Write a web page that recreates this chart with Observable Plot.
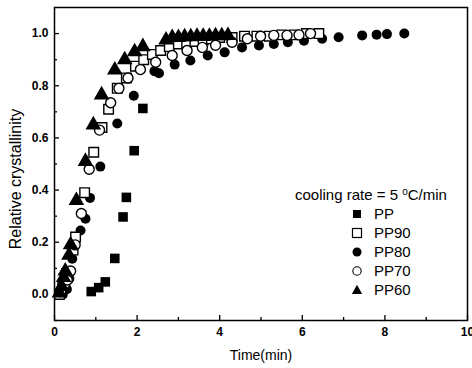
<!DOCTYPE html>
<html>
<head>
<meta charset="utf-8">
<script src="https://cdn.jsdelivr.net/npm/d3@7"></script>
<script src="https://cdn.jsdelivr.net/npm/@observablehq/plot@0.6"></script>
<style>
  html, body { margin: 0; padding: 0; background: #fff; }
  #wrap { position: relative; width: 472px; height: 368px; font-family: "Liberation Sans", Arial, sans-serif; }
  #legend { position: absolute; left: 295px; top: 182px; font-size: 15px; color: #000; }
  #legend .title { height: 19px; line-height: 19px; margin-bottom: 3px; white-space: nowrap; }
  #legend .row { display: flex; align-items: center; height: 19px; line-height: 19px; margin-left: 55px; }
  #legend svg { width: 14px; height: 14px; margin-right: 10px; overflow: visible; }
</style>
</head>
<body>
<div id="wrap"></div>
<script>
// ---- data (time in min, relative crystallinity) ----
const ppT   = [0.89, 1.07, 1.23, 1.46, 1.66, 1.74, 1.93, 2.14];
const ppY   = [0.011, 0.026, 0.048, 0.138, 0.297, 0.372, 0.551, 0.713];

const pp90T = [0.12, 0.20, 0.30, 0.45, 0.51, 0.73, 0.95, 1.15, 1.31, 1.52, 1.74, 1.96, 2.16, 2.37, 2.57, 2.78, 3.00, 3.20, 3.40, 3.60, 3.80, 4.00, 4.30, 4.60, 4.90, 5.20, 5.50, 5.80, 6.10, 6.40];
const pp90Y = [0.00, 0.03, 0.08, 0.17, 0.22, 0.39, 0.545, 0.64, 0.71, 0.79, 0.83, 0.875, 0.90, 0.92, 0.935, 0.95, 0.96, 0.965, 0.97, 0.975, 0.98, 0.985, 0.985, 0.99, 0.99, 0.99, 0.995, 0.995, 1.0, 1.0];

const pp80T = [0.20, 0.30, 0.36, 0.43, 0.63, 0.75, 0.86, 1.11, 1.52, 1.92, 2.42, 2.53, 2.91, 3.29, 3.71, 4.12, 4.54, 4.95, 5.31, 5.65, 6.04, 6.48, 6.88, 7.45, 7.80, 8.05, 8.47];
const pp80Y = [0.00, 0.02, 0.06, 0.137, 0.245, 0.29, 0.37, 0.49, 0.655, 0.762, 0.856, 0.848, 0.881, 0.897, 0.916, 0.928, 0.947, 0.954, 0.96, 0.967, 0.973, 0.98, 0.986, 0.993, 0.996, 0.998, 1.0];

const pp70T = [0.15, 0.25, 0.31, 0.39, 0.50, 0.65, 0.84, 1.09, 1.36, 1.56, 1.78, 2.08, 2.45, 2.85, 3.21, 3.58, 3.90, 4.30, 4.67, 4.99, 5.31, 5.63, 5.92, 6.20];
const pp70Y = [0.01, 0.04, 0.055, 0.09, 0.19, 0.31, 0.48, 0.63, 0.735, 0.79, 0.83, 0.862, 0.89, 0.916, 0.935, 0.947, 0.955, 0.967, 0.98, 0.99, 0.993, 0.993, 0.995, 1.0];

const pp60T = [0.12, 0.17, 0.22, 0.26, 0.35, 0.39, 0.53, 0.75, 0.94, 1.14, 1.46, 1.70, 1.94, 2.14, 2.70, 2.85, 3.00, 3.15, 3.30, 3.45, 3.60, 3.75, 3.90, 4.05, 4.20];
const pp60Y = [0.005, 0.03, 0.065, 0.09, 0.15, 0.19, 0.36, 0.51, 0.65, 0.765, 0.86, 0.90, 0.93, 0.95, 0.975, 0.985, 0.985, 0.988, 0.988, 0.99, 0.99, 0.99, 0.992, 0.992, 0.993];

const xMajor = [0, 2, 4, 6, 8, 10];
const xMinor = [1, 3, 5, 7, 9];
const yMajor = [0.0, 0.2, 0.4, 0.6, 0.8, 1.0];
const yMinor = [-0.1, 0.1, 0.3, 0.5, 0.7, 0.9];

const xLabel = "Time(min)";
const yLabel = "Relative crystallinity";

const zip = (ts, ys) => ts.map((t, i) => ({t, y: ys[i]}));

const W = 472, H = 368;
const mL = 54, mR = 5, mT = 7, mB = 48;
const fw = W - mL - mR, fh = H - mT - mB;

const chart = Plot.plot({
  width: W, height: H,
  marginLeft: mL, marginRight: mR, marginTop: mT, marginBottom: mB,
  style: {fontFamily: "'Liberation Sans', Arial, sans-serif", fontSize: "12px", color: "#000", background: "#fff"},
  x: {domain: [0, 10]},
  y: {domain: [-0.1, 1.1]},
  marks: [
    Plot.axisX({ticks: xMajor, tickSize: 0, tickPadding: 7, tickFormat: d3.format("d"), fontWeight: "bold", fontSize: 12, label: null}),
    Plot.axisY({ticks: yMajor, tickSize: 0, tickPadding: 6, tickFormat: d3.format(".1f"), fontWeight: "bold", fontSize: 12, label: null}),
    Plot.text([xLabel], {text: d => d, frameAnchor: "bottom", dy: 35, fontSize: 14, lineAnchor: "middle"}),
    Plot.text([yLabel], {text: d => d, frameAnchor: "left", textAnchor: "middle", rotate: -90, dx: -39, dy: 15, fontSize: 16, lineAnchor: "middle"}),
    Plot.tickX(xMajor, {x: d => d, insetTop: fh - 5, strokeWidth: 1.3}),
    Plot.tickX(xMinor, {x: d => d, insetTop: fh - 3, strokeWidth: 1.3}),
    Plot.tickY(yMajor, {y: d => d, insetRight: fw - 5, strokeWidth: 1.3}),
    Plot.tickY(yMinor, {y: d => d, insetRight: fw - 3, strokeWidth: 1.3}),
    Plot.dot(zip(pp80T, pp80Y), {x: "t", y: "y", symbol: "circle", r: 5, fill: "#000", stroke: "none"}),
    Plot.dot(zip(pp90T, pp90Y), {x: "t", y: "y", symbol: "square", r: 5.4, fill: "#fff", stroke: "#000", strokeWidth: 1.4}),
    Plot.dot(zip(pp70T, pp70Y), {x: "t", y: "y", symbol: "circle", r: 5, fill: "#fff", stroke: "#000", strokeWidth: 1.4}),
    Plot.dot(zip(ppT, ppY), {x: "t", y: "y", symbol: "square", r: 5.4, fill: "#000", stroke: "none"}),
    Plot.dot(zip(pp60T, pp60Y), {x: "t", y: "y", symbol: "triangle", r: 5.8, fill: "#000", stroke: "none"}),
    Plot.frame({stroke: "#000", strokeWidth: 1.5})
  ]
});
document.getElementById("wrap").appendChild(chart);

// ---- legend (HTML overlay) ----
const legendTitle = "cooling rate = 5 ";
const legendNames = ["PP", "PP90", "PP80", "PP70", "PP60"];
const legendSym = [
  '<rect x="3" y="3" width="8" height="8" fill="#000"/>',
  '<rect x="2.5" y="2.5" width="9" height="9" fill="#fff" stroke="#000" stroke-width="1.2"/>',
  '<circle cx="7" cy="7" r="4.5" fill="#000"/>',
  '<circle cx="7" cy="7" r="4.2" fill="#fff" stroke="#000" stroke-width="1.1"/>',
  '<path d="M7 1.8 L12.2 11 L1.8 11 Z" fill="#000"/>'
];
const leg = document.createElement("div");
leg.id = "legend";
leg.innerHTML = '<div class="title">' + legendTitle + '<span style="font-size:10px;vertical-align:5px">o</span>C/min</div>' +
  legendNames.map((n, i) => `<div class="row"><svg viewBox="0 0 14 14">${legendSym[i]}</svg><span>${n}</span></div>`).join("");
document.getElementById("wrap").appendChild(leg);
</script>
</body>
</html>
